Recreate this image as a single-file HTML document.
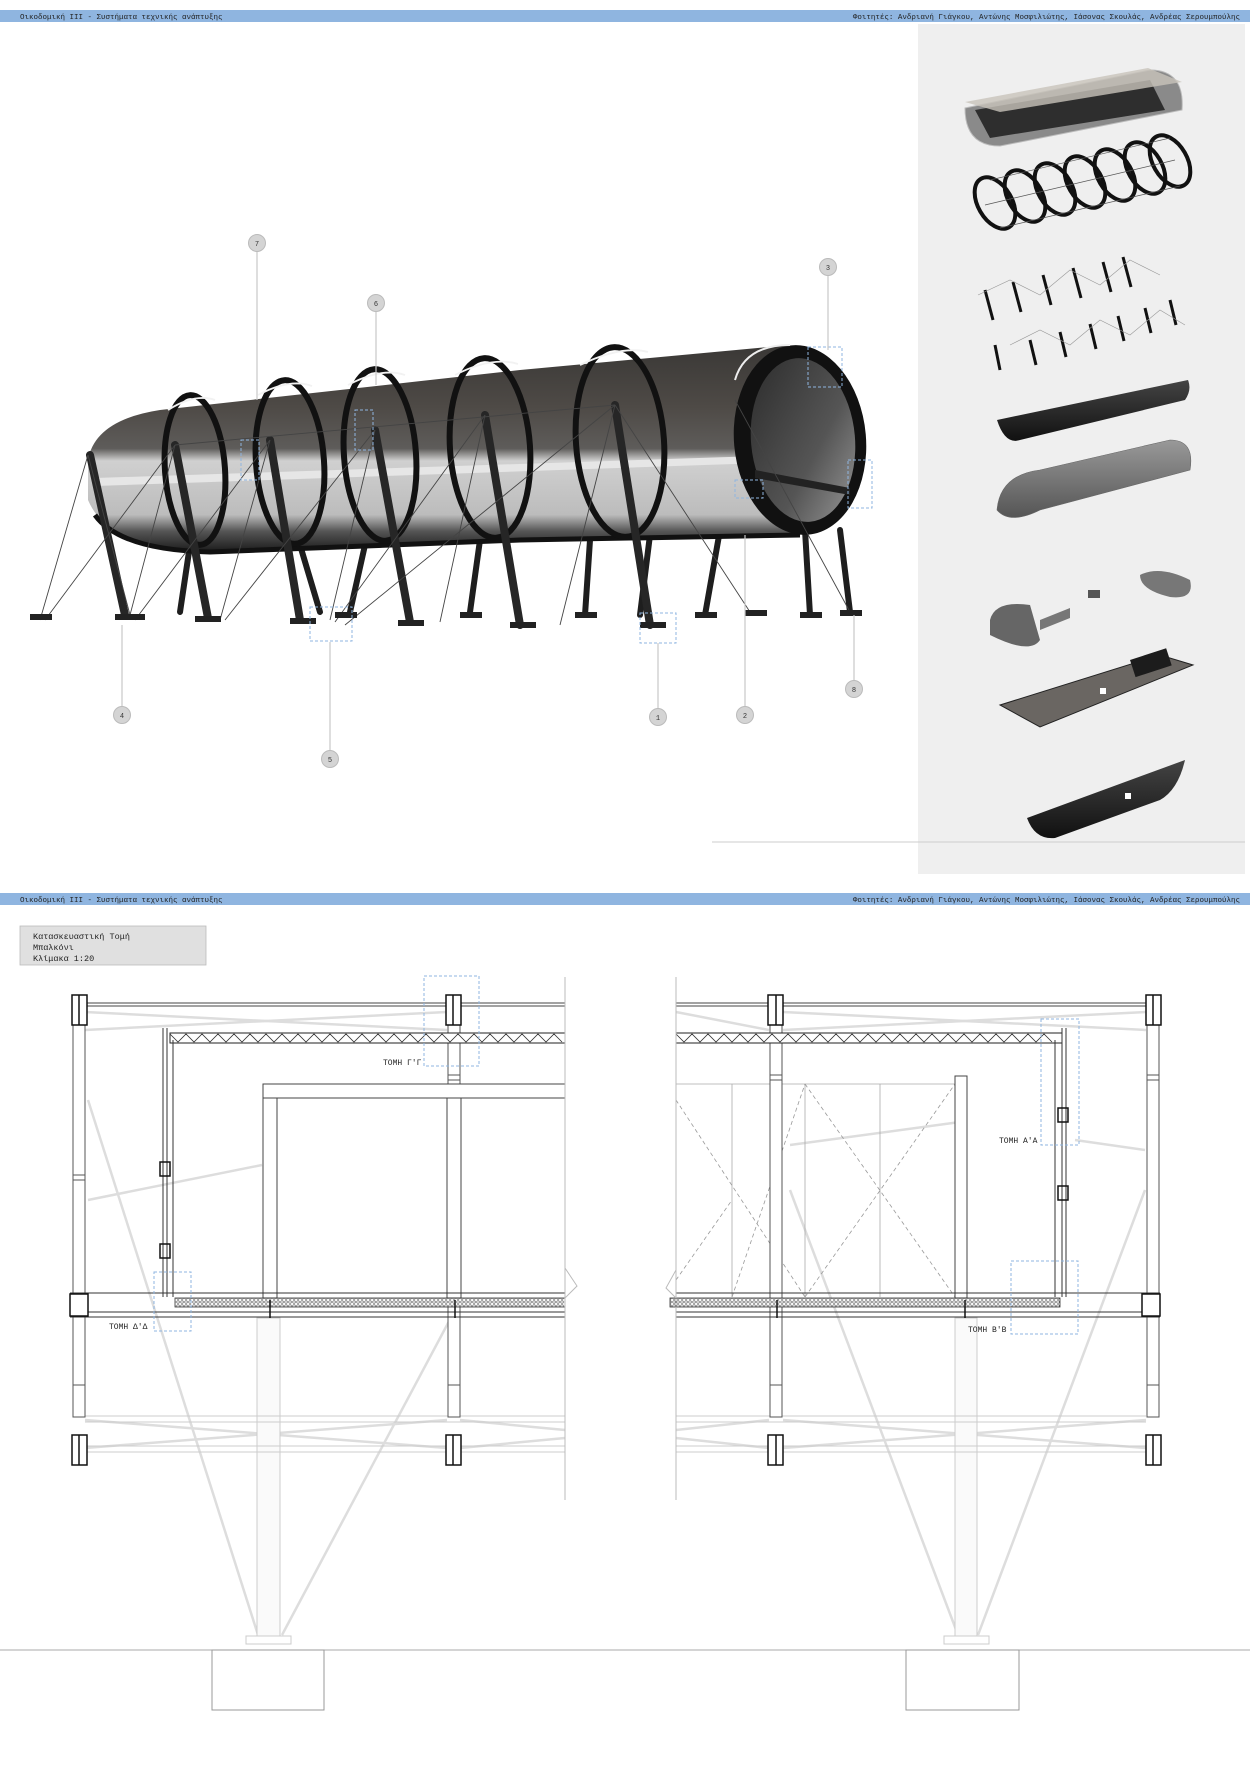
<!DOCTYPE html>
<html><head><meta charset="utf-8">
<style>
html,body{margin:0;padding:0;background:#fff;}
svg{display:block;}
text{font-family:"Liberation Mono","DejaVu Sans Mono",monospace;}
</style></head>
<body>
<svg width="1250" height="1766" viewBox="0 0 1250 1766" xmlns="http://www.w3.org/2000/svg">
<defs>
<pattern id="hatch" width="4" height="4" patternUnits="userSpaceOnUse">
<rect width="4" height="4" fill="#fff"/><circle cx="2" cy="2" r="1.3" fill="none" stroke="#555" stroke-width="0.7"/>
</pattern>
<linearGradient id="shell" x1="0" y1="0" x2="0" y2="1">
<stop offset="0" stop-color="#3a3836"/><stop offset="0.3" stop-color="#4e4a46"/><stop offset="0.5" stop-color="#5e5c5a"/><stop offset="0.56" stop-color="#d0d0d0"/><stop offset="0.82" stop-color="#bcbcbc"/><stop offset="0.9" stop-color="#555"/><stop offset="1" stop-color="#1a1a1a"/>
</linearGradient>
<linearGradient id="glass" x1="0" y1="0" x2="1" y2="1">
<stop offset="0" stop-color="#2b2b2b"/><stop offset="0.6" stop-color="#555"/><stop offset="1" stop-color="#9a9a9a"/>
</linearGradient>
<linearGradient id="dark" x1="0" y1="0" x2="0" y2="1">
<stop offset="0" stop-color="#444"/><stop offset="1" stop-color="#111"/>
</linearGradient>
<linearGradient id="grey" x1="0" y1="0" x2="0" y2="1">
<stop offset="0" stop-color="#999"/><stop offset="1" stop-color="#555"/>
</linearGradient>
</defs>

<rect x="0" y="10" width="1250" height="12" fill="#8fb5e0"/>
<text x="20" y="19" font-size="7.5" fill="#222">Οικοδομική ΙΙΙ - Συστήματα τεχνικής ανάπτυξης</text>
<text x="1240" y="19" font-size="7.5" fill="#222" text-anchor="end">Φοιτητές: Ανδριανή Γιάγκου, Αντώνης Μοσφιλιώτης, Ιάσονας Σκουλάς, Ανδρέας Σερουμπούλης</text>

<rect x="0" y="893" width="1250" height="12" fill="#8fb5e0"/>
<text x="20" y="902" font-size="7.5" fill="#222">Οικοδομική ΙΙΙ - Συστήματα τεχνικής ανάπτυξης</text>
<text x="1240" y="902" font-size="7.5" fill="#222" text-anchor="end">Φοιτητές: Ανδριανή Γιάγκου, Αντώνης Μοσφιλιώτης, Ιάσονας Σκουλάς, Ανδρέας Σερουμπούλης</text>

<rect x="918" y="24" width="327" height="850" fill="#efefef"/>
<line x1="712" y1="842" x2="1245" y2="842" stroke="#ccc" stroke-width="1"/>

<g>
<path d="M965,108 L1150,70 Q1185,70 1182,110 L1000,146 Q965,146 965,108Z" fill="#8a8a8a" stroke="#bbb"/>
<path d="M975,110 L1150,80 L1165,110 L990,138Z" fill="#2e2e2e"/>
<path d="M965,102 L1148,68 L1182,82 L1000,112Z" fill="#c8c3ba" opacity="0.8"/>
<g fill="none" stroke="#111" stroke-width="4">
<ellipse cx="995" cy="203" rx="17" ry="28" transform="rotate(-30 995 203)"/>
<ellipse cx="1025" cy="196" rx="17" ry="28" transform="rotate(-30 1025 196)"/>
<ellipse cx="1055" cy="189" rx="17" ry="28" transform="rotate(-30 1055 189)"/>
<ellipse cx="1085" cy="182" rx="17" ry="28" transform="rotate(-30 1085 182)"/>
<ellipse cx="1115" cy="175" rx="17" ry="28" transform="rotate(-30 1115 175)"/>
<ellipse cx="1145" cy="168" rx="17" ry="28" transform="rotate(-30 1145 168)"/>
<ellipse cx="1170" cy="161" rx="17" ry="28" transform="rotate(-30 1170 161)"/>
</g>
<g stroke="#555" stroke-width="0.7"><line x1="990" y1="180" x2="1170" y2="138"/><line x1="1000" y1="228" x2="1180" y2="186"/><line x1="985" y1="205" x2="1175" y2="160"/></g>
<g stroke="#111" stroke-width="3">
<line x1="985" y1="290" x2="993" y2="320"/><line x1="1013" y1="282" x2="1021" y2="312"/><line x1="1043" y1="275" x2="1051" y2="305"/><line x1="1073" y1="268" x2="1081" y2="298"/><line x1="1103" y1="262" x2="1111" y2="292"/><line x1="1123" y1="257" x2="1131" y2="287"/>
<line x1="1030" y1="340" x2="1036" y2="365"/><line x1="1060" y1="332" x2="1066" y2="357"/><line x1="1090" y1="324" x2="1096" y2="349"/><line x1="1118" y1="316" x2="1124" y2="341"/><line x1="1145" y1="308" x2="1151" y2="333"/><line x1="1170" y1="300" x2="1176" y2="325"/>
<line x1="995" y1="345" x2="1000" y2="370"/>
</g>
<g stroke="#999" stroke-width="0.6" fill="none">
<path d="M978,295 L1010,280 L1040,295 L1070,270 L1100,285 L1130,260 L1160,275"/>
<path d="M1010,345 L1040,330 L1070,345 L1100,320 L1130,335 L1160,310 L1185,325"/>
</g>
<path d="M997,420 L1188,380 Q1192,390 1185,400 L1020,440 Q1005,445 997,420Z" fill="url(#dark)"/>
<path d="M997,510 Q1000,475 1040,470 L1170,440 Q1195,440 1190,470 L1040,510 Q1010,525 997,510Z" fill="url(#grey)" stroke="#666" stroke-width="0.6"/>
<path d="M1140,575 Q1160,565 1190,580 Q1195,600 1170,597 Q1140,590 1140,575Z" fill="#777"/>
<rect x="1088" y="590" width="12" height="8" fill="#555"/>
<path d="M990,620 Q995,600 1030,605 L1040,640 Q1030,655 990,635Z" fill="#666"/>
<path d="M1040,620 L1070,608 L1070,618 L1040,630Z" fill="#777"/>
<path d="M1000,705 L1160,655 L1193,665 L1040,727 Z" fill="#6a6662" stroke="#222"/>
<rect x="1130" y="660" width="38" height="18" fill="#1c1c1c" transform="rotate(-18 1130 660)"/>
<rect x="1100" y="688" width="6" height="6" fill="#fff"/>
<path d="M1027,818 L1185,760 Q1178,790 1160,800 L1055,838 Q1035,840 1027,818Z" fill="url(#dark)"/>
<rect x="1125" y="793" width="6" height="6" fill="#fff"/>
</g>

<g>
<g stroke="#1e1e1e" stroke-width="6" stroke-linecap="round">
<line x1="190" y1="545" x2="180" y2="612"/><line x1="300" y1="545" x2="320" y2="612"/><line x1="365" y1="545" x2="350" y2="612"/>
<line x1="480" y1="540" x2="470" y2="612"/><line x1="590" y1="540" x2="585" y2="615"/><line x1="650" y1="535" x2="640" y2="615"/>
<line x1="720" y1="530" x2="705" y2="615"/><line x1="805" y1="530" x2="810" y2="615"/><line x1="840" y1="530" x2="850" y2="612"/>
</g>
<path d="M88,460 Q95,420 160,410 L520,370 L790,345 L800,535 L520,540 L210,552 Q110,552 88,500Z" fill="url(#shell)"/>
<path d="M95,515 Q120,550 210,552 L520,540 L800,535" fill="none" stroke="#111" stroke-width="5"/>
<path d="M95,478 L790,455 L792,462 L95,486Z" fill="#e6e6e6"/>
<g fill="none" stroke="#111" stroke-width="6">
<ellipse cx="195" cy="470" rx="30" ry="75" transform="rotate(-4 195 470)"/>
<ellipse cx="290" cy="462" rx="34" ry="82" transform="rotate(-4 290 462)"/>
<ellipse cx="380" cy="455" rx="36" ry="86" transform="rotate(-4 380 455)"/>
<ellipse cx="490" cy="448" rx="40" ry="90" transform="rotate(-4 490 448)"/>
<ellipse cx="620" cy="442" rx="44" ry="95" transform="rotate(-4 620 442)"/>
</g>
<g fill="none" stroke="#f2f2f2" stroke-width="1.8">
<path d="M168,410 Q195,393 215,400"/><path d="M258,395 Q290,378 312,386"/><path d="M348,385 Q382,367 405,375"/><path d="M455,375 Q492,356 518,364"/><path d="M580,365 Q622,345 648,352"/>
</g>
<ellipse cx="800" cy="440" rx="66" ry="95" transform="rotate(-5 800 440)" fill="#111"/>
<ellipse cx="803" cy="440" rx="52" ry="82" transform="rotate(-5 803 440)" fill="url(#glass)"/>
<path d="M755,470 L850,488 L850,495 L755,478Z" fill="#222"/>
<path d="M735,380 Q745,345 790,345" fill="none" stroke="#eee" stroke-width="2"/>
<g stroke="#262626" stroke-width="8" stroke-linecap="round">
<line x1="90" y1="455" x2="125" y2="615"/><line x1="175" y1="445" x2="208" y2="618"/><line x1="270" y1="440" x2="300" y2="620"/>
<line x1="375" y1="430" x2="410" y2="622"/><line x1="485" y1="415" x2="520" y2="625"/><line x1="615" y1="405" x2="650" y2="625"/>
</g>
<g stroke="#444" stroke-width="0.9">
<line x1="88" y1="455" x2="40" y2="620"/><line x1="88" y1="455" x2="130" y2="615"/><line x1="175" y1="445" x2="45" y2="620"/><line x1="175" y1="445" x2="130" y2="615"/>
<line x1="270" y1="440" x2="135" y2="620"/><line x1="270" y1="440" x2="220" y2="620"/><line x1="375" y1="430" x2="225" y2="620"/><line x1="375" y1="430" x2="330" y2="620"/>
<line x1="485" y1="415" x2="335" y2="622"/><line x1="485" y1="415" x2="440" y2="622"/><line x1="615" y1="405" x2="345" y2="625"/><line x1="615" y1="405" x2="560" y2="625"/>
<line x1="615" y1="405" x2="750" y2="612"/><line x1="735" y1="400" x2="850" y2="612"/><line x1="175" y1="445" x2="615" y2="405"/>
</g>
<g fill="#222">
<rect x="30" y="614" width="22" height="6"/><rect x="115" y="614" width="30" height="6"/><rect x="195" y="616" width="26" height="6"/><rect x="290" y="618" width="26" height="6"/><rect x="335" y="612" width="22" height="6"/>
<rect x="398" y="620" width="26" height="6"/><rect x="460" y="612" width="22" height="6"/><rect x="510" y="622" width="26" height="6"/><rect x="575" y="612" width="22" height="6"/>
<rect x="640" y="622" width="26" height="6"/><rect x="695" y="612" width="22" height="6"/><rect x="745" y="610" width="22" height="6"/><rect x="800" y="612" width="22" height="6"/><rect x="840" y="610" width="22" height="6"/>
</g>
<g fill="none" stroke="#8fb5e0" stroke-width="1" stroke-dasharray="3,2">
<rect x="241" y="440" width="18" height="40"/><rect x="355" y="410" width="18" height="40"/><rect x="808" y="347" width="34" height="40"/>
<rect x="848" y="460" width="24" height="48"/><rect x="735" y="480" width="28" height="18"/><rect x="310" y="607" width="42" height="34"/><rect x="640" y="613" width="36" height="30"/>
</g>
</g>

<g stroke="#c8c8c8" stroke-width="1.2">
<line x1="257" y1="251" x2="257" y2="400"/><line x1="376" y1="311" x2="376" y2="385"/><line x1="828" y1="275" x2="828" y2="350"/>
<line x1="122" y1="625" x2="122" y2="707"/><line x1="330" y1="642" x2="330" y2="751"/><line x1="658" y1="643" x2="658" y2="709"/>
<line x1="745" y1="535" x2="745" y2="707"/><line x1="854" y1="615" x2="854" y2="681"/>
</g>
<g fill="#d4d4d4" stroke="#bbb" stroke-width="1">
<circle cx="257" cy="243" r="8.5"/><circle cx="376" cy="303" r="8.5"/><circle cx="828" cy="267" r="8.5"/><circle cx="122" cy="715" r="8.5"/>
<circle cx="330" cy="759" r="8.5"/><circle cx="658" cy="717" r="8.5"/><circle cx="745" cy="715" r="8.5"/><circle cx="854" cy="689" r="8.5"/>
</g>
<g font-size="7" fill="#333" text-anchor="middle">
<text x="257" y="246">7</text><text x="376" y="306">6</text><text x="828" y="270">3</text><text x="122" y="718">4</text>
<text x="330" y="762">5</text><text x="658" y="720">1</text><text x="745" y="718">2</text><text x="854" y="692">8</text>
</g>

<rect x="20" y="926" width="186" height="39" fill="#e0e0e0" stroke="#bbb" stroke-width="0.8"/>
<text x="33" y="939" font-size="8.5" fill="#222">Κατασκευαστική Τομή</text>
<text x="33" y="950" font-size="8.5" fill="#222">Μπαλκόνι</text>
<text x="33" y="961" font-size="8.5" fill="#222">Κλίμακα 1:20</text>

<line x1="0" y1="1650" x2="1250" y2="1650" stroke="#aaa" stroke-width="1"/>
<rect x="212" y="1650" width="112" height="60" fill="none" stroke="#999"/>
<rect x="906" y="1650" width="113" height="60" fill="none" stroke="#999"/>

<g fill="none">
<g stroke="#ddd" stroke-width="2.5">
<line x1="88" y1="1100" x2="258" y2="1635"/><line x1="455" y1="1310" x2="282" y2="1635"/>
<line x1="88" y1="1200" x2="262" y2="1165"/>
<line x1="85" y1="1012" x2="447" y2="1030"/><line x1="85" y1="1030" x2="447" y2="1012"/>
<line x1="85" y1="1420" x2="447" y2="1448"/><line x1="85" y1="1448" x2="447" y2="1420"/>
<line x1="460" y1="1420" x2="565" y2="1430"/><line x1="460" y1="1448" x2="565" y2="1438"/>
</g>
<rect x="257" y="1318" width="23" height="318" stroke="#ccc" fill="#fafafa"/>
<rect x="246" y="1636" width="45" height="8" stroke="#ccc"/>
<g stroke="#ccc" stroke-width="1"><line x1="85" y1="1416" x2="565" y2="1416"/><line x1="85" y1="1422" x2="565" y2="1422"/><line x1="85" y1="1446" x2="565" y2="1446"/><line x1="85" y1="1452" x2="565" y2="1452"/></g>
<g stroke="#444" stroke-width="1"><line x1="87" y1="1003" x2="565" y2="1003"/><line x1="87" y1="1006" x2="565" y2="1006"/></g>
<g stroke="#555" stroke-width="1">
<rect x="73" y="1025" width="12" height="392" fill="#fff"/>
<rect x="448" y="1025" width="12" height="392" fill="#fff"/>
<line x1="73" y1="1175" x2="85" y2="1175"/><line x1="73" y1="1180" x2="85" y2="1180"/>
<line x1="448" y1="1075" x2="460" y2="1075"/><line x1="448" y1="1080" x2="460" y2="1080"/>
<line x1="73" y1="1385" x2="85" y2="1385"/><line x1="448" y1="1385" x2="460" y2="1385"/>
</g>
<g stroke="#111" stroke-width="1.5" fill="#fff">
<rect x="72" y="995" width="15" height="30"/><line x1="79" y1="995" x2="79" y2="1025"/>
<rect x="446" y="995" width="15" height="30"/><line x1="453" y1="995" x2="453" y2="1025"/>
<rect x="72" y="1435" width="15" height="30"/><line x1="79" y1="1435" x2="79" y2="1465"/>
<rect x="446" y="1435" width="15" height="30"/><line x1="453" y1="1435" x2="453" y2="1465"/>
</g>
<rect x="170" y="1033" width="395" height="10" stroke="#222" fill="#fff"/>
<path d="M170,1034 l8,8 l8,-8 l8,8 l8,-8 l8,8 l8,-8 l8,8 l8,-8 l8,8 l8,-8 l8,8 l8,-8 l8,8 l8,-8 l8,8 l8,-8 l8,8 l8,-8 l8,8 l8,-8 l8,8 l8,-8 l8,8 l8,-8 l8,8 l8,-8 l8,8 l8,-8 l8,8 l8,-8 l8,8 l8,-8 l8,8 l8,-8 l8,8 l8,-8 l8,8 l8,-8 l8,8 l8,-8 l8,8 l8,-8 l8,8 l8,-8 l8,8 l8,-8 l8,8 l8,-8 l8,8" stroke="#333" stroke-width="0.8"/>
<g stroke="#333" stroke-width="1"><line x1="163" y1="1028" x2="163" y2="1297"/><line x1="167" y1="1028" x2="167" y2="1297"/><line x1="173" y1="1040" x2="173" y2="1297"/></g>
<rect x="160" y="1162" width="10" height="14" stroke="#111" stroke-width="1.5"/>
<rect x="160" y="1244" width="10" height="14" stroke="#111" stroke-width="1.5"/>
<g stroke="#444" stroke-width="1" fill="#fff">
<rect x="263" y="1084" width="302" height="14"/>
<rect x="263" y="1098" width="14" height="200"/>
<rect x="447" y="1098" width="14" height="200"/>
</g>
<rect x="175" y="1298" width="390" height="9" fill="url(#hatch)" stroke="#333" stroke-width="0.8"/>
<g stroke="#333" stroke-width="1"><line x1="70" y1="1293" x2="565" y2="1293"/><line x1="70" y1="1312" x2="565" y2="1312"/><line x1="70" y1="1317" x2="565" y2="1317"/></g>
<rect x="70" y="1294" width="18" height="22" stroke="#111" stroke-width="1.5" fill="#fff"/>
<g stroke="#111" stroke-width="1.5"><line x1="270" y1="1300" x2="270" y2="1318"/><line x1="455" y1="1300" x2="455" y2="1318"/></g>
<line x1="565" y1="977" x2="565" y2="1500" stroke="#bbb"/>
<path d="M565,1268 l12,18 l-12,12" stroke="#bbb"/>
<g stroke="#8fb5e0" stroke-dasharray="3,2" stroke-width="1">
<rect x="424" y="976" width="55" height="90"/>
<rect x="154" y="1272" width="37" height="59"/>
</g>
</g>
<text x="383" y="1065" font-size="8" fill="#222">ΤΟΜΗ Γ'Γ</text>
<text x="109" y="1329" font-size="8" fill="#222">ΤΟΜΗ Δ'Δ</text>

<g fill="none">
<g stroke="#ddd" stroke-width="2.5">
<line x1="790" y1="1190" x2="958" y2="1635"/><line x1="1145" y1="1190" x2="978" y2="1635"/>
<line x1="790" y1="1145" x2="960" y2="1122"/><line x1="1075" y1="1140" x2="1145" y2="1150"/>
<line x1="676" y1="1012" x2="769" y2="1030"/><line x1="783" y1="1012" x2="1146" y2="1030"/><line x1="783" y1="1030" x2="1146" y2="1012"/>
<line x1="783" y1="1420" x2="1146" y2="1448"/><line x1="783" y1="1448" x2="1146" y2="1420"/>
<line x1="676" y1="1430" x2="769" y2="1420"/><line x1="676" y1="1438" x2="769" y2="1448"/>
</g>
<rect x="955" y="1318" width="22" height="318" stroke="#ccc" fill="#fafafa"/>
<rect x="944" y="1636" width="45" height="8" stroke="#ccc"/>
<g stroke="#ccc" stroke-width="1"><line x1="676" y1="1416" x2="1146" y2="1416"/><line x1="676" y1="1422" x2="1146" y2="1422"/><line x1="676" y1="1446" x2="1146" y2="1446"/><line x1="676" y1="1452" x2="1146" y2="1452"/></g>
<g stroke="#aaa" stroke-width="0.8">
<line x1="676" y1="1084" x2="960" y2="1084"/><line x1="732" y1="1084" x2="732" y2="1297"/><line x1="805" y1="1084" x2="805" y2="1297"/><line x1="880" y1="1084" x2="880" y2="1297"/>
</g>
<g stroke="#999" stroke-width="0.8" stroke-dasharray="4,3">
<line x1="676" y1="1100" x2="805" y2="1297"/><line x1="732" y1="1297" x2="805" y2="1084"/><line x1="676" y1="1280" x2="732" y2="1200"/>
<line x1="805" y1="1084" x2="955" y2="1297"/><line x1="805" y1="1297" x2="955" y2="1084"/>
</g>
<g stroke="#444" stroke-width="1"><line x1="676" y1="1003" x2="1146" y2="1003"/><line x1="676" y1="1006" x2="1146" y2="1006"/></g>
<g stroke="#555" stroke-width="1">
<rect x="770" y="1025" width="12" height="392" fill="#fff"/>
<rect x="1147" y="1025" width="12" height="392" fill="#fff"/>
<line x1="770" y1="1075" x2="782" y2="1075"/><line x1="770" y1="1080" x2="782" y2="1080"/>
<line x1="1147" y1="1075" x2="1159" y2="1075"/><line x1="1147" y1="1080" x2="1159" y2="1080"/>
<line x1="770" y1="1385" x2="782" y2="1385"/><line x1="1147" y1="1385" x2="1159" y2="1385"/>
</g>
<g stroke="#111" stroke-width="1.5" fill="#fff">
<rect x="768" y="995" width="15" height="30"/><line x1="776" y1="995" x2="776" y2="1025"/>
<rect x="1146" y="995" width="15" height="30"/><line x1="1153" y1="995" x2="1153" y2="1025"/>
<rect x="768" y="1435" width="15" height="30"/><line x1="776" y1="1435" x2="776" y2="1465"/>
<rect x="1146" y="1435" width="15" height="30"/><line x1="1153" y1="1435" x2="1153" y2="1465"/>
</g>
<rect x="676" y="1033" width="386" height="10" stroke="#222" fill="#fff"/>
<path d="M676,1034 l8,8 l8,-8 l8,8 l8,-8 l8,8 l8,-8 l8,8 l8,-8 l8,8 l8,-8 l8,8 l8,-8 l8,8 l8,-8 l8,8 l8,-8 l8,8 l8,-8 l8,8 l8,-8 l8,8 l8,-8 l8,8 l8,-8 l8,8 l8,-8 l8,8 l8,-8 l8,8 l8,-8 l8,8 l8,-8 l8,8 l8,-8 l8,8 l8,-8 l8,8 l8,-8 l8,8 l8,-8 l8,8 l8,-8 l8,8 l8,-8 l8,8 l8,-8 l8,8" stroke="#333" stroke-width="0.8"/>
<g stroke="#333" stroke-width="1"><line x1="1055" y1="1040" x2="1055" y2="1297"/><line x1="1062" y1="1028" x2="1062" y2="1297"/><line x1="1066" y1="1028" x2="1066" y2="1297"/></g>
<rect x="1058" y="1108" width="10" height="14" stroke="#111" stroke-width="1.5"/>
<rect x="1058" y="1186" width="10" height="14" stroke="#111" stroke-width="1.5"/>
<rect x="955" y="1076" width="12" height="222" stroke="#444" fill="#fff"/>
<rect x="670" y="1298" width="390" height="9" fill="url(#hatch)" stroke="#333" stroke-width="0.8"/>
<g stroke="#333" stroke-width="1"><line x1="676" y1="1293" x2="1160" y2="1293"/><line x1="676" y1="1312" x2="1160" y2="1312"/><line x1="676" y1="1317" x2="1160" y2="1317"/></g>
<rect x="1142" y="1294" width="18" height="22" stroke="#111" stroke-width="1.5" fill="#fff"/>
<g stroke="#111" stroke-width="1.5"><line x1="965" y1="1300" x2="965" y2="1318"/><line x1="777" y1="1300" x2="777" y2="1318"/></g>
<line x1="676" y1="977" x2="676" y2="1500" stroke="#bbb"/>
<path d="M676,1270 l-10,18 l10,10" stroke="#bbb"/>
<g stroke="#8fb5e0" stroke-dasharray="3,2" stroke-width="1">
<rect x="1041" y="1019" width="38" height="126"/>
<rect x="1011" y="1261" width="67" height="73"/>
</g>
</g>
<text x="999" y="1143" font-size="8" fill="#222">ΤΟΜΗ Α'Α</text>
<text x="968" y="1332" font-size="8" fill="#222">ΤΟΜΗ Β'Β</text>
</svg>
</body></html>
